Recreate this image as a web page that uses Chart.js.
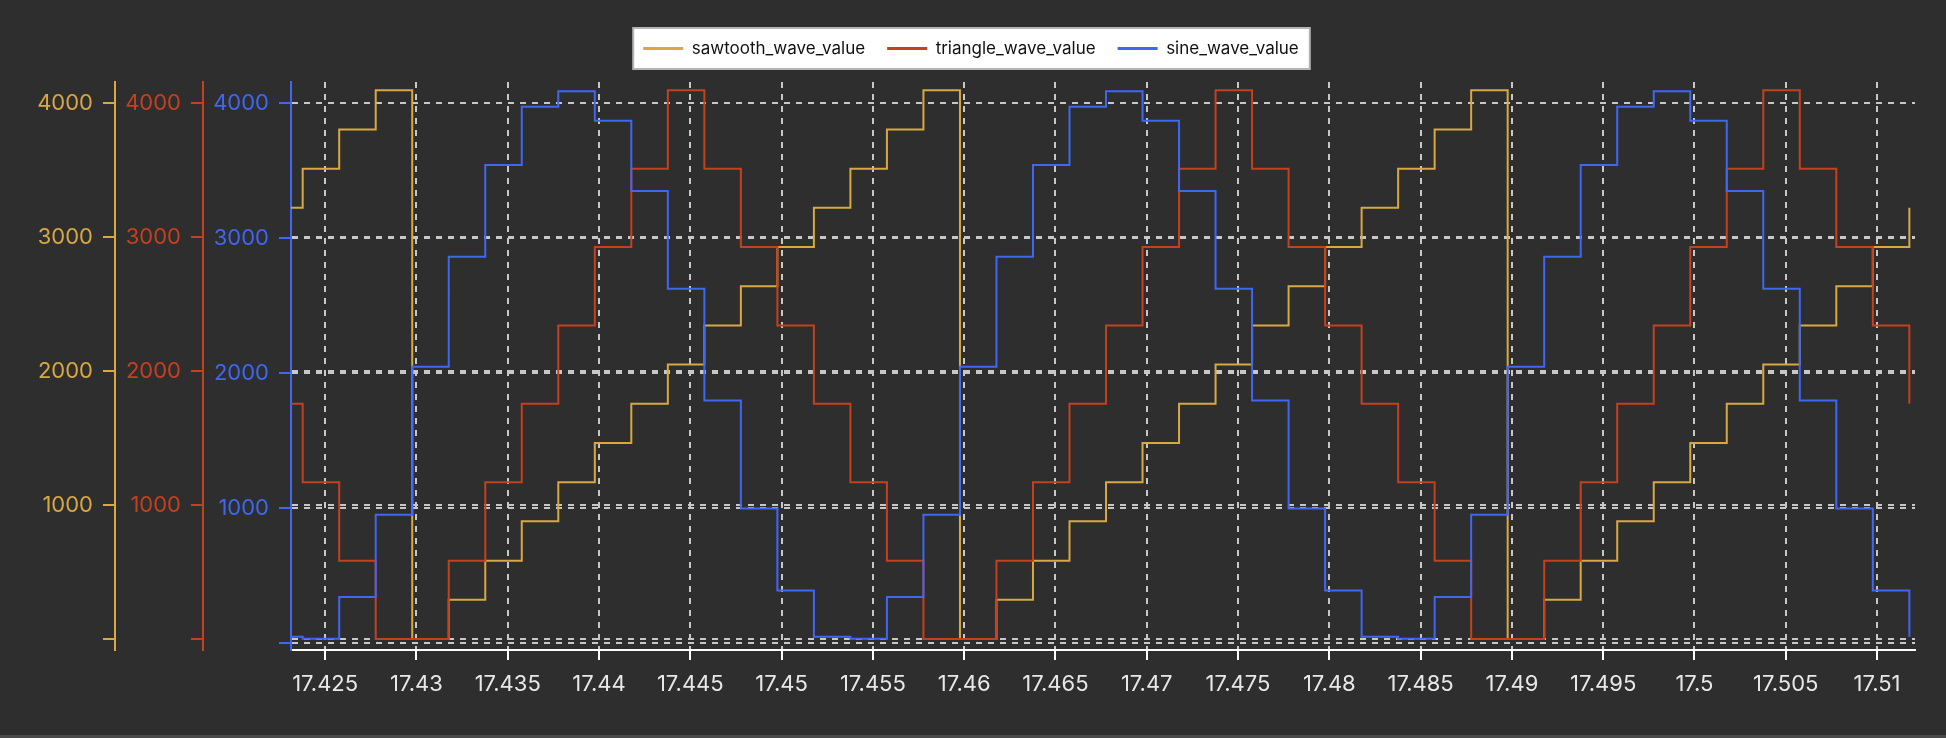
<!DOCTYPE html>
<html>
<head>
<meta charset="utf-8">
<script src="https://cdn.jsdelivr.net/npm/chart.js@4.4.0/dist/chart.umd.min.js"></script>
<style>
html, body { margin: 0; padding: 0; background: #2e2e2e; overflow: hidden; }
#wrap { width: 1946px; height: 738px; position: relative; }
canvas { display: block; }
#strip { position: absolute; left: 0; bottom: 0; width: 1946px; height: 3px; background: #4a4a4a; }
</style>
</head>
<body>
<div id="wrap"><canvas id="c" width="1946" height="735"></canvas><div id="strip"></div></div>
<script>
// sample timestamps (s)
const timeValues = [
  17.42177, 17.42377, 17.42577, 17.42777, 17.42977, 17.43177, 17.43377, 17.43577, 17.43777, 17.43977,
  17.44177, 17.44377, 17.44577, 17.44777, 17.44977, 17.45177, 17.45377, 17.45577, 17.45777, 17.45977,
  17.46177, 17.46377, 17.46577, 17.46777, 17.46977, 17.47177, 17.47377, 17.47577, 17.47777, 17.47977,
  17.48177, 17.48377, 17.48577, 17.48777, 17.48977, 17.49177, 17.49377, 17.49577, 17.49777, 17.49977,
  17.50177, 17.50377, 17.50577, 17.50777, 17.50977, 17.51177
];
const sawtoothValues = [
  3218, 3510, 3803, 4095, 0, 293, 585, 878, 1170, 1463,
  1755, 2048, 2340, 2633, 2925, 3218, 3510, 3803, 4095, 0,
  293, 585, 878, 1170, 1463, 1755, 2048, 2340, 2633, 2925,
  3218, 3510, 3803, 4095, 0, 293, 585, 878, 1170, 1463,
  1755, 2048, 2340, 2633, 2925, 3218
];
const triangleValues = [
  1755, 1170, 585, 0, 0, 585, 1170, 1755, 2340, 2925,
  3510, 4095, 3510, 2925, 2340, 1755, 1170, 585, 0, 0,
  585, 1170, 1755, 2340, 2925, 3510, 4095, 3510, 2925, 2340,
  1755, 1170, 585, 0, 0, 585, 1170, 1755, 2340, 2925,
  3510, 4095, 3510, 2925, 2340, 1755
];
const sineValues = [
  46, 32, 341, 950, 2047, 2862, 3542, 3973, 4087, 3869,
  3349, 2624, 1796, 997, 389, 46, 32, 341, 950, 2047,
  2862, 3542, 3973, 4087, 3869, 3349, 2624, 1796, 997, 389,
  46, 32, 341, 950, 2047, 2862, 3542, 3973, 4087, 3869,
  3349, 2624, 1796, 997, 389, 46
];
const seriesNames = ['sawtooth_wave_value', 'triangle_wave_value', 'sine_wave_value'];
const xTickValues = [17.425, 17.43, 17.435, 17.44, 17.445, 17.45, 17.455, 17.46, 17.465, 17.47,
                     17.475, 17.48, 17.485, 17.49, 17.495, 17.5, 17.505, 17.51];
const xTickLabels = ['17.425', '17.43', '17.435', '17.44', '17.445', '17.45', '17.455', '17.46', '17.465', '17.47',
                     '17.475', '17.48', '17.485', '17.49', '17.495', '17.5', '17.505', '17.51'];
const yTickValues = [0, 1000, 2000, 3000, 4000];
const yTickLabels = ['', '1000', '2000', '3000', '4000'];

const SAW = '#d8a843', TRI = '#c4401f', SINE = '#3f67f2';
const GRID = '#c8c8c8';

Chart.defaults.font.family = 'Inter';

function yAxis(color, min, max, weight) {
  return {
    type: 'linear', position: 'left', min: min, max: max, weight: weight, bounds: 'data',
    afterBuildTicks: s => { s.ticks = yTickValues.map(v => ({ value: v })); },
    afterFit: s => { s.width = 88; },
    ticks: { color: color, font: { family: 'Inter', size: 22 }, padding: 10,
             callback: (v, i) => yTickLabels[i] },
    grid: { color: GRID, lineWidth: 2, tickColor: color, tickLength: 12, tickWidth: 2 },
    border: { display: true, color: color, width: 2, dash: [6, 6] }
  };
}

function series(label, values, color, axis, order) {
  return {
    label: label,
    data: timeValues.map((t, i) => ({ x: t, y: values[i] })),
    yAxisID: axis, borderColor: color, backgroundColor: color,
    borderWidth: 2, pointRadius: 0, stepped: true, fill: false, order: order
  };
}

const legendBg = {
  id: 'legendBg',
  beforeDraw(chart) {
    const lg = chart.legend;
    if (!lg || !lg.legendHitBoxes || !lg.legendHitBoxes.length) return;
    const hb = lg.legendHitBoxes;
    const last = hb[hb.length - 1];
    const l = hb[0].left - 10, r = last.left + last.width + 11;
    const t = hb[0].top - 12, b = hb[0].top + hb[0].height + 12;
    const ctx = chart.ctx;
    ctx.save();
    ctx.fillStyle = '#ffffff';
    ctx.fillRect(l, t, r - l, b - t);
    ctx.strokeStyle = '#b4b4b4';
    ctx.lineWidth = 2;
    ctx.strokeRect(l, t, r - l, b - t);
    ctx.restore();
  }
};

new Chart(document.getElementById('c'), {
  type: 'line',
  data: {
    datasets: [
      series(seriesNames[0], sawtoothValues, SAW, 'ySaw', 3),
      series(seriesNames[1], triangleValues, TRI, 'yTri', 2),
      series(seriesNames[2], sineValues, SINE, 'ySine', 1)
    ]
  },
  options: {
    responsive: false,
    animation: false,
    events: [],
    layout: { padding: { left: 27, right: 31, top: 18, bottom: 0 } },
    plugins: {
      tooltip: { enabled: false },
      title: { display: true, text: '', weight: 500, padding: 0, font: { size: 10, lineHeight: 1.5 } },
      legend: {
        position: 'top',
        labels: {
          color: '#111111', font: { family: 'Inter', size: 17 }, boxWidth: 40, boxHeight: 3, padding: 22,
          generateLabels: chart => chart.data.datasets.map((ds, i) => ({
            text: ds.label, fillStyle: ds.borderColor, strokeStyle: ds.borderColor,
            lineWidth: 0, hidden: false, datasetIndex: i, fontColor: '#111111'
          }))
        }
      }
    },
    scales: {
      x: {
        type: 'linear', position: 'bottom', min: 17.42313, max: 17.51208, bounds: 'data',
        afterBuildTicks: s => { s.ticks = xTickValues.map(v => ({ value: v })); },
        afterFit: s => { s.height = 85; },
        ticks: { color: '#e8e8e8', font: { family: 'Inter', size: 22 }, padding: 11,
                 maxRotation: 0, autoSkip: false, callback: (v, i) => xTickLabels[i] },
        grid: { color: GRID, lineWidth: 2, tickColor: '#ffffff', tickLength: 10, tickWidth: 2 },
        border: { display: true, color: '#ffffff', width: 2, dash: [6, 6] }
      },
      ySaw: yAxis(SAW, -82, 4157, 3),
      yTri: yAxis(TRI, -82, 4157, 2),
      ySine: yAxis(SINE, -52, 4156, 1)
    }
  },
  plugins: [legendBg]
});
</script>
</body>
</html>
